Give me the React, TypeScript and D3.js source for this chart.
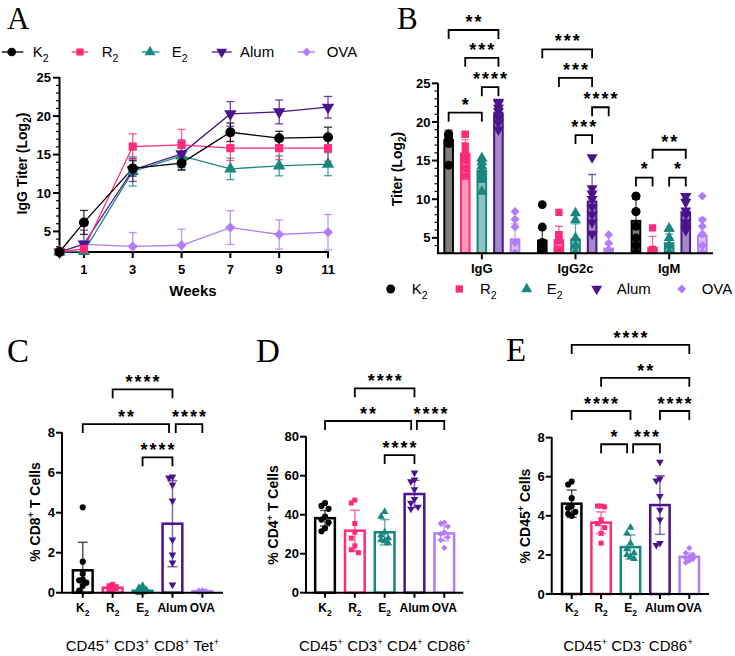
import React from "react";
import * as d3 from "d3";

const FONT = "'Liberation Sans', Arial, Helvetica, sans-serif";
const SERIF = "'Liberation Serif', 'Times New Roman', serif";

const groups = ["K2", "R2", "E2", "Alum", "OVA"];
const colors = ["#000000", "#ff2a7a", "#17877f", "#4a148c", "#b27cf6"];

// ---------- Panel A: IgG titer over time ----------
const weeks = [0, 1, 3, 5, 7, 9, 11];
const weekTicks = [1, 3, 5, 7, 9, 11];
const titerTicks = [5, 10, 15, 20, 25];
const titerK2 = [2.32, 6.17, 13.2, 13.88, 17.9, 17.13, 17.26];
const titerR2 = [2.32, 2.72, 16.04, 16.26, 15.83, 15.83, 15.83];
const titerE2 = [2.32, 2.4, 12.8, 14.83, 13.14, 13.53, 13.75];
const titerAlum = [2.32, 3.36, 13.0, 15.09, 20.29, 20.55, 21.16];
const titerOVA = [2.32, 3.3, 3.05, 3.2, 5.5, 4.6, 4.9];
const titerSdK2 = [0, 1.56, 1.0, 0.9, 1.2, 0.9, 1.3];
const titerSdR2 = [0, 0.4, 1.65, 2.0, 1.6, 1.5, 1.7];
const titerSdE2 = [0, 0.2, 1.9, 1.8, 1.4, 1.3, 1.5];
const titerSdAlum = [0, 1.8, 1.5, 1.8, 1.6, 1.55, 1.4];
const titerSdOVA = [0, 0.5, 1.8, 2.1, 2.2, 1.9, 2.3];
const titerMeans = [titerK2, titerR2, titerE2, titerAlum, titerOVA];
const titerSds = [titerSdK2, titerSdR2, titerSdE2, titerSdAlum, titerSdOVA];

// ---------- Panel B: isotype titers ----------
const isotypes = ["IgG", "IgG2c", "IgM"];
const isoTicks = [5, 10, 15, 20, 25];
const meanIgG = [17.65, 15.9, 13.7, 21.0, 4.8];
const meanIgG2c = [4.65, 4.7, 4.8, 9.7, 3.6];
const meanIgM = [7.2, 3.7, 4.3, 8.3, 5.25];
const sdIgG = [1.3, 1.8, 1.3, 1.2, 2.0];
const sdIgG2c = [1.5, 1.8, 2.0, 3.5, 0.7];
const sdIgM = [2.8, 1.5, 1.2, 1.8, 2.3];
const ptsIgG = [
  [18.4, 18.4, 18.4, 18.2, 17.8, 17.6, 17.2, 14.4],
  [18.4, 18.4, 16.9, 16.2, 15.3, 15.0, 14.0, 13.0],
  [15.3, 15.3, 14.8, 14.3, 13.6, 13.0, 12.5, 11.0],
  [22.6, 22.4, 21.8, 21.4, 20.9, 20.5, 19.9, 19.0],
  [8.4, 7.4, 6.4, 4.4, 3.0, 3.0, 3.0, 3.0],
];
const ptsIgG2c = [
  [9.3, 6.4, 4.4, 3.5, 3.0, 3.0, 3.0, 3.0],
  [8.3, 5.4, 5.4, 4.6, 3.5, 3.0, 3.0, 3.0],
  [8.2, 7.3, 5.0, 4.0, 3.0, 3.0, 3.0, 3.0],
  [15.4, 11.4, 10.7, 10.0, 9.0, 8.0, 7.0, 5.5],
  [5.4, 4.3, 3.5, 3.0, 3.0, 3.0, 3.0, 3.0],
];
const ptsIgM = [
  [10.4, 10.4, 8.4, 8.4, 6.5, 5.0, 4.0, 3.0],
  [6.3, 3.5, 3.2, 3.0, 3.0, 3.0, 3.0, 3.0],
  [6.2, 6.2, 5.0, 4.0, 3.0, 3.0, 3.0, 3.0],
  [10.4, 10.4, 9.6, 8.5, 8.0, 7.0, 6.4, 6.0],
  [10.4, 7.3, 6.5, 5.5, 4.0, 3.0, 3.0, 3.0],
];
const isoMeans = [meanIgG, meanIgG2c, meanIgM];
const isoSds = [sdIgG, sdIgG2c, sdIgM];
const isoPts = [ptsIgG, ptsIgG2c, ptsIgM];
// [isotype, groupA, groupB, level (titer units), label]
const isoBrackets: any[] = [
  [0, 0, 3, 31.9, "**"],
  [0, 1, 3, 28.3, "***"],
  [0, 2, 3, 24.5, "****"],
  [0, 0, 2, 21.2, "*"],
  [1, 0, 3, 29.4, "***"],
  [1, 1, 3, 25.7, "***"],
  [1, 3, 4, 21.9, "****"],
  [1, 2, 3, 18.3, "***"],
  [2, 1, 3, 16.4, "**"],
  [2, 0, 1, 12.8, "*"],
  [2, 2, 3, 12.8, "*"],
];

// ---------- Panel C: CD8+ Tet+ ----------
const cTicks = [0, 2, 4, 6, 8];
const cMeans = [1.12, 0.25, 0.1, 3.45, 0.07];
const cSds = [1.4, 0.12, 0.12, 2.15, 0.03];
const cPts = [
  [4.27, 1.55, 0.95, 0.65, 0.62, 0.35, 0.1, 0.5],
  [0.42, 0.35, 0.3, 0.28, 0.22, 0.2, 0.15, 0.1],
  [0.35, 0.25, 0.15, 0.1, 0.05, 0.05, 0.02, 0.0],
  [5.8, 5.75, 5.4, 4.6, 2.65, 1.9, 1.5, 0.4],
  [0.12, 0.1, 0.08, 0.08, 0.06, 0.05, 0.05, 0.04],
];
const cBrackets: any[] = [
  [1, 3, 10.17, "****", 0, 0],
  [0, 3, 8.43, "**", 0, -3.4],
  [3, 4, 8.43, "****", 3.3, 0],
  [2, 3, 6.77, "****", 0, 0],
];

// ---------- Panel D: CD4+ CD86+ ----------
const dTicks = [0, 20, 40, 60, 80];
const dMeans = [38.2, 31.8, 31.0, 50.6, 30.4];
const dSds = [4.0, 10.5, 6.5, 7.0, 3.8];
const dPts = [
  [46, 44.5, 43, 39, 37.5, 36, 33, 31.5],
  [47.5, 46, 35.5, 31, 28, 24, 22, 20.5],
  [41.5, 39, 31, 29.5, 28, 27, 26.5, 25.5],
  [61.5, 58, 57, 53, 48, 46, 44, 43],
  [36, 35.5, 34, 31, 30, 28.5, 27, 23],
];
const dBrackets: any[] = [
  [1, 3, 104.8, "****", 0, 0],
  [0, 3, 88.05, "**", 0, -3.3],
  [3, 4, 88.05, "****", 2.4, 0],
  [2, 3, 70.6, "****", 0, 0],
];

// ---------- Panel E: CD45+ CD3- CD86+ ----------
const eTicks = [0, 2, 4, 6, 8];
const eMeans = [4.62, 3.65, 2.4, 4.55, 1.9];
const eSds = [0.7, 0.55, 0.62, 1.5, 0.2];
const ePts = [
  [5.75, 5.6, 4.9, 4.5, 4.4, 4.2, 4.1, 4.0],
  [4.5, 4.5, 4.45, 3.8, 3.6, 3.4, 3.1, 2.6],
  [3.4, 3.1, 2.6, 2.3, 2.1, 2.0, 1.9, 1.8],
  [6.75, 5.9, 5.8, 5.0, 4.3, 3.8, 2.6, 2.5],
  [2.35, 2.1, 2.0, 1.9, 1.85, 1.8, 1.7, 1.6],
];
const eBrackets: any[] = [
  [0, 4, 12.74, "****", 0, 0],
  [1, 4, 11.06, "**", 0, 0],
  [0, 2, 9.36, "****", 0, 0],
  [3, 4, 9.36, "****", 0, 0],
  [1, 2, 7.66, "*", 0, -3.4],
  [2, 3, 7.66, "***", 2.6, 0],
];

// ---------- helpers ----------
const symTypes = [d3.symbolCircle, d3.symbolSquare, d3.symbolTriangle, d3.symbolTriangle, d3.symbolSquare];
const symRot = [0, 0, 0, 180, 45];
const symScale = [1, 0.85, 0.85, 0.85, 0.65];

function Marker({ i, x, y, size, fill }: any) {
  const d = d3.symbol(symTypes[i], size * symScale[i])() as string;
  return <path d={d} transform={`translate(${x},${y}) rotate(${symRot[i]})`} fill={fill || colors[i]} />;
}

function subLabel(name: string, fs: number) {
  if (name.length === 2 && name[1] === "2") {
    return [
      <tspan key="a">{name[0]}</tspan>,
      <tspan key="b" dy={fs * 0.3} fontSize={fs * 0.7}>2</tspan>,
    ];
  }
  return name;
}

function supText(segs: string[][], fs: number) {
  const out: any[] = [];
  segs.forEach((sg, k) => {
    out.push(<tspan key={"t" + k} dy={k === 0 ? 0 : fs * 0.38}>{sg[0]}</tspan>);
    out.push(<tspan key={"s" + k} dy={-fs * 0.38} fontSize={fs * 0.65}>{sg[1]}</tspan>);
  });
  return out;
}

function Bracket({ x1, x2, y, label, leg = 9, gap = 11 }: any) {
  return (
    <g>
      <path d={`M${x1},${y + leg}V${y}H${x2}V${y + leg}`} fill="none" stroke="#000" strokeWidth={1.8} />
      <text x={(x1 + x2) / 2 + 1} y={y - gap + 9.4} textAnchor="middle" fontSize={18} fontWeight="bold" letterSpacing={2} fontFamily={FONT}>
        {label}
      </text>
    </g>
  );
}

function swarm(vals: number[], y: any, r: number, maxOff: number) {
  const placed: number[][] = [];
  const cands = [0, -1, 1, -2, 2, -3, 3].map((k) => k * r * 1.15).filter((c) => Math.abs(c) <= maxOff);
  return vals.map((v) => {
    const py = y(v);
    let best = 0;
    let bestD = -1;
    for (const c of cands) {
      let md = Infinity;
      for (const p of placed) md = Math.min(md, Math.hypot(p[0] - c, p[1] - py));
      if (md >= 2 * r * 0.95) { best = c; bestD = md; break; }
      if (md > bestD) { bestD = md; best = c; }
    }
    placed.push([best, py]);
    return best;
  });
}

// ---------- Panel A ----------
function PanelA() {
  const x = d3.scaleLinear().domain([0, 11]).range([59.5, 328]);
  const y = d3.scaleLinear().domain([2.32, 25]).range([252, 77.7]);
  const line = d3.line<number>().x((_, k) => x(weeks[k])).y((d) => y(d));
  const order = [4, 2, 3, 1, 0];
  const minor = d3.range(3, 25).filter((v) => v % 5 !== 0);
  const legendPos = [[1.7, 23.3, 11.7, 32.7], [71.7, 88.3, 80, 101.7], [141.7, 159.3, 150, 171.7], [211.7, 231.7, 221.7, 240], [297.7, 315, 306.7, 326.7]];
  return (
    <g fontFamily={FONT}>
      {groups.map((g, i) => (
        <g key={"lg" + i}>
          <line x1={legendPos[i][0]} x2={legendPos[i][1]} y1={52} y2={52} stroke={colors[i]} strokeWidth={1.3} />
          <Marker i={i} x={legendPos[i][2]} y={52} size={60} />
          <text x={legendPos[i][3]} y={57.3} fontSize={15}>{subLabel(g, 15)}</text>
        </g>
      ))}
      <line x1={59.5} x2={59.5} y1={77} y2={252} stroke="#000" strokeWidth={2} />
      <line x1={58.5} x2={329} y1={252} y2={252} stroke="#000" strokeWidth={2} />
      {titerTicks.map((t) => (
        <g key={"yt" + t}>
          <line x1={53} x2={59.5} y1={y(t)} y2={y(t)} stroke="#000" strokeWidth={2} />
          <text x={51} y={y(t) + 4.6} textAnchor="end" fontSize={13} fontWeight="bold">{t}</text>
        </g>
      ))}
      {minor.map((t) => (
        <line key={"ym" + t} x1={56} x2={59.5} y1={y(t)} y2={y(t)} stroke="#000" strokeWidth={1.2} />
      ))}
      {weekTicks.map((t) => (
        <g key={"xt" + t}>
          <line x1={x(t)} x2={x(t)} y1={252} y2={258} stroke="#000" strokeWidth={2} />
          <text x={x(t)} y={274} textAnchor="middle" fontSize={13} fontWeight="bold">{t}</text>
        </g>
      ))}
      <text x={193} y={296} textAnchor="middle" fontSize={15} fontWeight="bold">Weeks</text>
      <text transform="translate(27,163.5) rotate(-90)" textAnchor="middle" fontSize={14} fontWeight="bold">
        <tspan>IgG Titer (Log</tspan>
        <tspan dy={4} fontSize={10}>2</tspan>
        <tspan dy={-4}>)</tspan>
      </text>
      {order.map((i) => (
        <path key={"l" + i} d={line(titerMeans[i]) as string} fill="none" stroke={colors[i]} strokeWidth={1.3} />
      ))}
      {order.map((i) =>
        titerMeans[i].map((m, k) => {
          const sd = titerSds[i][k];
          if (!sd) return null;
          const lo = Math.max(m - sd, 2.32);
          const hi = m + sd;
          const cx = x(weeks[k]);
          return (
            <g key={"e" + i + "-" + k} stroke={colors[i]} strokeWidth={1.3} strokeOpacity={0.8}>
              <line x1={cx} x2={cx} y1={y(lo)} y2={y(hi)} />
              <line x1={cx - 4} x2={cx + 4} y1={y(hi)} y2={y(hi)} />
              {m - sd > 2.32 && <line x1={cx - 4} x2={cx + 4} y1={y(lo)} y2={y(lo)} />}
            </g>
          );
        })
      )}
      {order.map((i) =>
        titerMeans[i].map((m, k) => <Marker key={"m" + i + "-" + k} i={i} x={x(weeks[k])} y={y(m)} size={78} />)
      )}
    </g>
  );
}

// ---------- Panel B ----------
function PanelB() {
  const gx = d3.scaleBand().domain(isotypes).range([435, 716]);
  const ix = d3.scaleBand().domain(groups).range([-41.5, 41.5]);
  const y = d3.scaleLinear().domain([3, 25]).range([253.3, 83.3]);
  const cx = (gi: number, i: number) => (gx(isotypes[gi]) as number) + gx.bandwidth() / 2 + (ix(groups[i]) as number) + ix.bandwidth() / 2;
  const minor = d3.range(4, 25).filter((v) => v % 5 !== 0);
  const legendPos = [[390.7, 411.7], [459.3, 480], [526.7, 546.7], [596.7, 616.7], [681.7, 701.7]];
  const bw = 8.6;
  return (
    <g fontFamily={FONT}>
      <defs>
        <clipPath id="clipB">
          <rect x={436} y={60} width={290} height={193.3} />
        </clipPath>
      </defs>
      <g clipPath="url(#clipB)">
        {isotypes.map((iso, gi) =>
          groups.map((g, i) => {
            const c = cx(gi, i);
            const m = isoMeans[gi][i];
            const sd = isoSds[gi][i];
            return (
              <g key={"b" + gi + i}>
                <line x1={c} x2={c} y1={y(m)} y2={y(m + sd)} stroke={colors[i]} strokeWidth={1.3} strokeOpacity={0.7} />
                <line x1={c - 4} x2={c + 4} y1={y(m + sd)} y2={y(m + sd)} stroke={colors[i]} strokeWidth={1.3} strokeOpacity={0.7} />
                {isoPts[gi][i].map((v, k) => (
                  <Marker key={k} i={i} x={c} y={y(v)} size={62} />
                ))}
                <rect x={c - bw / 2} y={y(m)} width={bw} height={y(3) - y(m)} fill={colors[i]} fillOpacity={0.5} stroke={colors[i]} strokeWidth={2} />
              </g>
            );
          })
        )}
      </g>
      <line x1={438} x2={438} y1={83} y2={253.3} stroke="#000" strokeWidth={2} />
      <line x1={437} x2={713} y1={253.3} y2={253.3} stroke="#000" strokeWidth={2} />
      {isoTicks.map((t) => (
        <g key={"yt" + t}>
          <line x1={432} x2={438} y1={y(t)} y2={y(t)} stroke="#000" strokeWidth={2} />
          <text x={430.5} y={y(t) + 4.6} textAnchor="end" fontSize={13} fontWeight="bold">{t}</text>
        </g>
      ))}
      {minor.map((t) => (
        <line key={"ym" + t} x1={434.5} x2={438} y1={y(t)} y2={y(t)} stroke="#000" strokeWidth={1.2} />
      ))}
      {isotypes.map((iso) => {
        const c = (gx(iso) as number) + gx.bandwidth() / 2;
        return (
          <g key={"xt" + iso}>
            <line x1={c} x2={c} y1={253.3} y2={259.3} stroke="#000" strokeWidth={2} />
            <text x={c} y={273} textAnchor="middle" fontSize={13} fontWeight="bold">{iso}</text>
          </g>
        );
      })}
      <text transform="translate(402,169) rotate(-90)" textAnchor="middle" fontSize={14} fontWeight="bold">
        <tspan>Titer (Log</tspan>
        <tspan dy={4} fontSize={10}>2</tspan>
        <tspan dy={-4}>)</tspan>
      </text>
      {isoBrackets.map((b, k) => (
        <Bracket key={"br" + k} x1={cx(b[0], b[1])} x2={cx(b[0], b[2])} y={y(b[3])} label={b[4]} gap={11.5} />
      ))}
      {groups.map((g, i) => (
        <g key={"lg" + i}>
          <Marker i={i} x={legendPos[i][0]} y={289} size={62} />
          <text x={legendPos[i][1]} y={294.3} fontSize={15}>{subLabel(g, 15)}</text>
        </g>
      ))}
    </g>
  );
}

// ---------- Panels C, D, E ----------
function DotBar({ cfg }: any) {
  const { axisX, x0, x1, axisEnd, yDom, yRange, ticks, means, sds, pts, brackets, yLabel, yLabelPos, title, titleX } = cfg;
  const y = d3.scaleLinear().domain(yDom).range(yRange);
  const x = d3.scaleBand().domain(groups).range([x0, x1]);
  const cx = (i: number) => (x(groups[i]) as number) + x.bandwidth() / 2;
  const bw = x.bandwidth() * 0.66;
  const base = yRange[0];
  return (
    <g fontFamily={FONT}>
      {groups.map((g, i) => {
        const c = cx(i);
        const m = means[i];
        const sd = sds[i];
        const offs = swarm(pts[i], y, 3.1, bw / 2 - 3);
        const lo = Math.max(m - sd, yDom[0]);
        return (
          <g key={"g" + i}>
            <rect x={c - bw / 2} y={y(m)} width={bw} height={base - y(m)} fill="#fff" stroke={colors[i]} strokeWidth={2.5} />
            {pts[i].map((v: number, k: number) => (
              <Marker key={k} i={i} x={c + offs[k]} y={y(v)} size={30} />
            ))}
            <g stroke={colors[i]} strokeOpacity={0.65} strokeWidth={1.5}>
              <line x1={c} x2={c} y1={y(lo)} y2={y(m + sd)} />
              <line x1={c - 5} x2={c + 5} y1={y(m + sd)} y2={y(m + sd)} />
              {m - sd > yDom[0] && <line x1={c - 5} x2={c + 5} y1={y(lo)} y2={y(lo)} />}
            </g>
          </g>
        );
      })}
      <line x1={axisX} x2={axisX} y1={yRange[1] - 0.5} y2={base} stroke="#000" strokeWidth={2} />
      <line x1={axisX - 1} x2={axisEnd} y1={base} y2={base} stroke="#000" strokeWidth={2} />
      {ticks.map((t: number) => (
        <g key={"yt" + t}>
          <line x1={axisX - 6} x2={axisX} y1={y(t)} y2={y(t)} stroke="#000" strokeWidth={2} />
          <text x={axisX - 7} y={y(t) + 4.5} textAnchor="end" fontSize={13} fontWeight="bold">{t}</text>
        </g>
      ))}
      {groups.map((g, i) => (
        <g key={"xt" + i}>
          <line x1={cx(i)} x2={cx(i)} y1={base} y2={base + 5} stroke="#000" strokeWidth={2} />
          <text x={cx(i)} y={612} textAnchor="middle" fontSize={12} fontWeight="bold">{subLabel(g, 12)}</text>
        </g>
      ))}
      <text transform={`translate(${yLabelPos[0]},${yLabelPos[1]}) rotate(-90)`} textAnchor="middle" fontSize={14} fontWeight="bold">
        {supText(yLabel, 14)}
      </text>
      <text x={titleX} y={651} textAnchor="middle" fontSize={15}>
        {supText(title, 15)}
      </text>
      {brackets.map((b: any, k: number) => (
        <Bracket key={"br" + k} x1={cx(b[0]) + b[4]} x2={cx(b[1]) + b[5]} y={y(b[2])} label={b[3]} gap={10.5} />
      ))}
    </g>
  );
}

const cfgC = {
  axisX: 62, x0: 67.8, x1: 217.3, axisEnd: 223, yDom: [0, 8], yRange: [592.7, 432.7], ticks: cTicks,
  means: cMeans, sds: cSds, pts: cPts, brackets: cBrackets,
  yLabel: [["% CD8", "+"], [" T Cells", ""]], yLabelPos: [39.5, 512],
  title: [["CD45", "+"], [" CD3", "+"], [" CD8", "+"], [" Tet", "+"]], titleX: 142.5,
};
const cfgD = {
  axisX: 306, x0: 310.1, x1: 459.2, axisEnd: 463.3, yDom: [0, 80], yRange: [592.7, 436.7], ticks: dTicks,
  means: dMeans, sds: dSds, pts: dPts, brackets: dBrackets,
  yLabel: [["% CD4", "+"], [" T Cells", ""]], yLabelPos: [278, 515],
  title: [["CD45", "+"], [" CD3", "+"], [" CD4", "+"], [" CD86", "+"]], titleX: 385,
};
const cfgE = {
  axisX: 551.7, x0: 557, x1: 704, axisEnd: 709, yDom: [0, 8], yRange: [594, 437.6], ticks: eTicks,
  means: eMeans, sds: eSds, pts: ePts, brackets: eBrackets,
  yLabel: [["% CD45", "+"], [" Cells", ""]], yLabelPos: [529.5, 516],
  title: [["CD45", "+"], [" CD3", "-"], [" CD86", "+"]], titleX: 628,
};

export default function App() {
  return (
    <svg width={735} height={656} viewBox="0 0 735 656" style={{ position: "absolute", left: 0, top: 0, background: "#fff" }}>
      <rect width={735} height={656} fill="#fff" />
      <text x={7} y={29} fontFamily={SERIF} fontSize={31}>A</text>
      <text x={397} y={29} fontFamily={SERIF} fontSize={31}>B</text>
      <text x={7} y={362} fontFamily={SERIF} fontSize={33}>C</text>
      <text x={256} y={362} fontFamily={SERIF} fontSize={33}>D</text>
      <text x={506} y={361} fontFamily={SERIF} fontSize={33}>E</text>
      <PanelA />
      <PanelB />
      <DotBar cfg={cfgC} />
      <DotBar cfg={cfgD} />
      <DotBar cfg={cfgE} />
    </svg>
  );
}
